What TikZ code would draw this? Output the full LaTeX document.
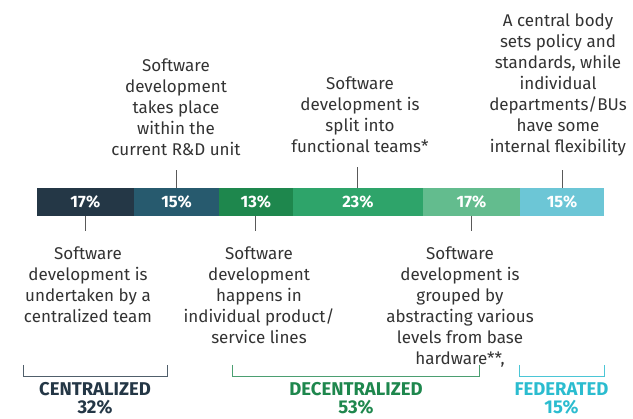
\documentclass[tikz,border=0pt]{standalone}
\usepackage{fontspec}
\setmainfont{Fira Sans}
\usetikzlibrary{positioning}

\definecolor{segA}{HTML}{243746}
\definecolor{segB}{HTML}{275A6E}
\definecolor{segC}{HTML}{1E874D}
\definecolor{segD}{HTML}{2EA46A}
\definecolor{segE}{HTML}{63BC8E}
\definecolor{segF}{HTML}{6CC6D6}
\definecolor{fedcol}{HTML}{2BBCCF}
\definecolor{txtcol}{HTML}{333333}

\tikzset{
  seg/.style={minimum height=27.7pt, inner sep=0pt, outer sep=0pt, text=white,
    font=\bfseries\fontsize{16.5}{18}\selectfont},
  lbl/.style={align=center, inner sep=0pt, text=txtcol,
    font=\fontsize{17}{21}\selectfont},
  tick/.style={draw=black!65, line width=1pt},
  grp/.style={align=center, inner sep=0pt, anchor=north,
    font=\bfseries\fontsize{18.5}{18.5}\selectfont},
  brk/.style={line width=1pt}
}

\begin{document}
\begin{tikzpicture}[x=1pt,y=-1pt]
  \useasboundingbox (0,0) rectangle (633,419);

  % the bar
  \foreach \n/\xa/\xb/\col/\pc in {1/36.7/134/segA/17, 2/134/219/segB/15,
      3/219/292.7/segC/13, 4/292.7/423/segD/23, 5/423/520/segE/17, 6/520/604/segF/15}
    \node[seg, fill=\col, anchor=west, minimum width={(\xb-\xa)*1pt}] (s\n) at (\xa,202) {\pc\%};

  % labels above
  \node[lbl, anchor=south] (t2) at (176,156)
    {Software\\development\\takes place\\within the\\current R\&D unit};
  \node[lbl, anchor=south] (t4) at (360,153)
    {Software\\development is\\split into\\functional teams*};
  \node[lbl, anchor=south] (t6) at (558,156)
    {A central body\\sets policy and\\standards, while\\individual\\departments/BUs\\have some\\internal flexibility};

  % labels below
  \node[lbl, anchor=north] (b1) at (88,247)
    {Software\\development is\\undertaken by a\\centralized team};
  \node[lbl, anchor=north] (b3) at (259,247)
    {Software\\development\\happens in\\individual product/\\service lines};
  \node[lbl, anchor=north] (b5) at (460,247)
    {Software\\development is\\grouped by\\abstracting various\\levels from base\\hardware**,};

  % ticks
  \foreach \n in {2,4,6}
    \draw[tick, shorten >=14pt] (s\n.north) -- (s\n.north |- t\n.south);
  \foreach \n in {1,3,5}
    \draw[tick, shorten >=16pt] (s\n.south) -- (s\n.south |- b\n.north);

  % groups
  \draw[brk, draw=segA!80] (23,365) |- (167.3,376.7) -- (167.3,365);
  \node[grp, text=segA] (g1) at (95,382) {CENTRALIZED\\32\%};

  \draw[brk, draw=segC!80] (232.7,365) |- (479.7,376.7) -- (479.7,365);
  \node[grp, text=segC] (g2) at (356,382) {DECENTRALIZED\\53\%};

  \draw[brk, draw=fedcol!85] (519,365) |- (604,376.7) -- (604,365);
  \node[grp, text=fedcol] (g3) at (561.5,382) {FEDERATED\\15\%};
\end{tikzpicture}
\end{document}
